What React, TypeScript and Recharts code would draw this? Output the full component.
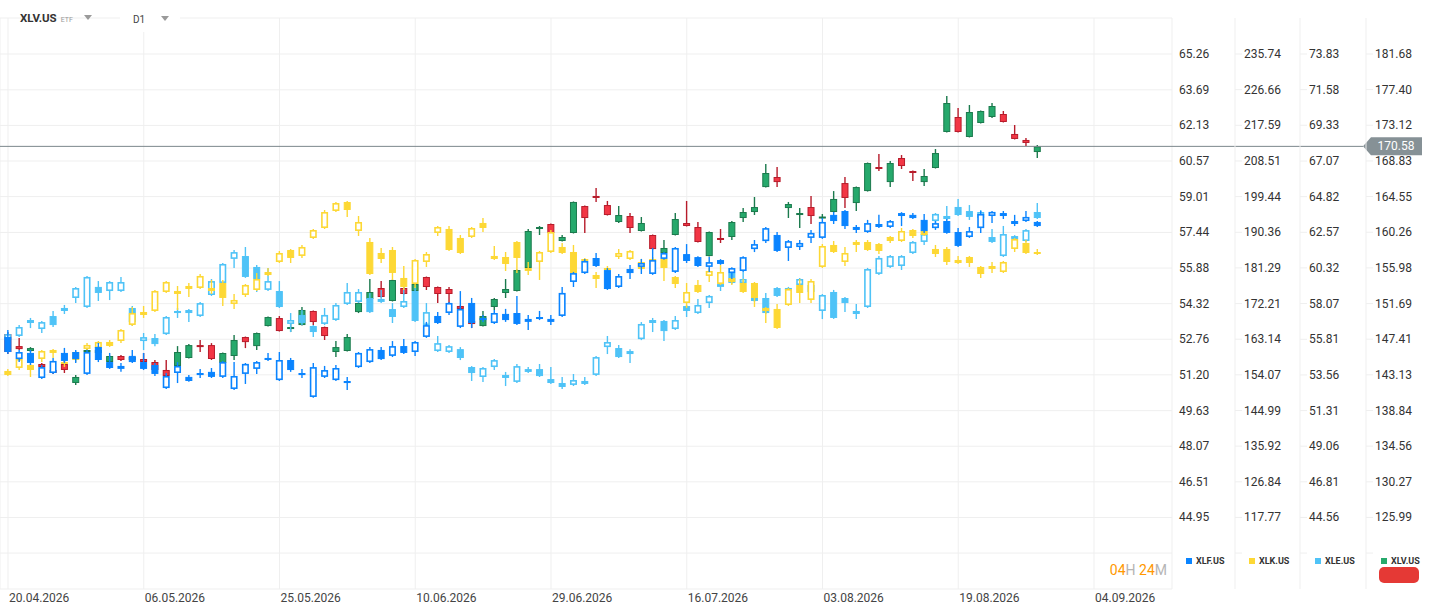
import React from 'react';
import { ComposedChart, Bar, XAxis, YAxis, CartesianGrid, ReferenceLine } from 'recharts';

const DATE_TICKS = [0, 12, 24, 36, 48, 60, 72, 84, 96];
const DATE_LABELS = ['20.04.2026', '06.05.2026', '25.05.2026', '10.06.2026', '29.06.2026', '16.07.2026', '03.08.2026', '19.08.2026', '04.09.2026'];

// daily candles, [open, high, low, close]
const XLF = [
  [52.86, 53.16, 52.11, 52.2], [51.89, 52.29, 51.76, 52.2], [52.16, 52.29, 51.63, 51.72], [51.06, 51.63, 51.02, 51.54],
  [51.28, 51.94, 51.24, 51.81], [52.16, 52.38, 51.72, 51.81], [52.2, 52.29, 51.72, 51.89], [51.24, 52.29, 51.19, 52.2],
  [52.42, 52.6, 51.76, 51.85], [51.76, 52.16, 51.46, 51.5], [51.46, 51.72, 51.33, 51.59], [52.03, 52.29, 51.72, 51.76],
  [51.76, 52.16, 51.41, 51.46], [51.63, 51.72, 51.15, 51.24], [50.62, 51.28, 50.58, 51.15], [51.28, 51.76, 50.84, 51.59],
  [51.11, 51.19, 50.9, 50.93], [51.19, 51.46, 51.06, 51.28], [51.33, 51.5, 51.06, 51.11], [51.11, 51.81, 51.06, 51.76],
  [50.58, 51.76, 50.54, 51.15], [51.24, 51.72, 50.8, 51.68], [51.46, 51.81, 51.24, 51.76], [51.85, 52.16, 51.81, 51.94],
  [50.97, 52.2, 50.93, 51.85], [51.85, 51.94, 51.33, 51.41], [51.19, 51.46, 51.06, 51.28], [50.23, 51.72, 50.2, 51.54],
  [51.11, 51.59, 51.06, 51.41], [50.97, 51.63, 50.93, 51.5], [50.84, 51.11, 50.54, 50.93], [51.54, 52.2, 51.5, 52.16],
  [51.76, 52.42, 51.72, 52.33], [52.29, 52.42, 51.85, 51.89], [52.03, 52.68, 51.98, 52.46], [52.46, 52.77, 52.11, 52.16],
  [52.2, 52.68, 52.03, 52.64], [52.86, 53.52, 52.82, 53.38], [53.78, 53.95, 53.43, 53.47], [53.91, 54.39, 53.82, 54.35],
  [53.3, 54.87, 53.25, 54.09], [54.35, 54.57, 53.25, 53.47], [53.6, 53.82, 53.52, 53.69], [53.47, 54.04, 53.43, 53.91],
  [53.87, 54.09, 53.52, 53.6], [53.91, 54.65, 53.38, 53.43], [53.52, 53.82, 53.16, 53.65], [53.65, 54.0, 53.6, 53.73],
  [53.65, 53.82, 53.38, 53.52], [53.78, 55.05, 53.73, 54.79], [55.27, 55.71, 55.05, 55.66], [55.66, 56.28, 55.62, 56.19],
  [56.32, 56.54, 55.93, 55.97], [55.79, 55.88, 54.92, 54.96], [55.05, 55.62, 55.0, 55.53], [55.84, 56.01, 55.4, 55.66],
  [55.93, 56.28, 55.62, 56.1], [55.62, 56.76, 55.58, 56.23], [56.28, 56.58, 56.24, 56.54], [55.71, 56.8, 55.66, 56.76],
  [56.49, 56.93, 56.1, 56.19], [56.36, 56.4, 55.93, 55.97], [55.93, 56.36, 55.71, 56.14], [56.23, 56.27, 56.02, 56.06],
  [55.66, 55.92, 55.4, 55.88], [55.75, 56.4, 55.71, 56.36], [56.71, 57.11, 56.58, 56.93], [57.06, 57.68, 56.98, 57.63],
  [57.33, 57.46, 56.58, 56.63], [56.76, 57.11, 56.19, 57.06], [56.8, 57.11, 56.67, 56.98], [57.2, 57.55, 56.98, 57.42],
  [57.2, 58.07, 57.16, 57.9], [58.21, 58.34, 57.81, 57.94], [58.38, 58.42, 57.59, 57.72], [57.68, 57.77, 57.42, 57.55],
  [57.46, 57.99, 57.42, 57.85], [57.81, 58.21, 57.64, 57.68], [57.68, 57.99, 57.64, 57.94], [58.16, 58.33, 57.72, 58.29],
  [58.21, 58.29, 58.03, 58.07], [57.99, 58.25, 57.42, 57.5], [57.63, 57.94, 57.55, 57.85], [57.94, 58.03, 57.38, 57.42],
  [57.46, 57.63, 56.8, 56.85], [57.24, 57.68, 57.2, 57.5], [57.63, 58.38, 57.42, 58.25], [58.16, 58.38, 57.85, 58.34],
  [58.29, 58.38, 58.03, 58.16], [57.94, 58.21, 57.72, 57.81], [57.94, 58.38, 57.9, 58.12], [57.9, 57.94, 57.68, 57.72],
];

const XLK = [
  [155.06, 155.57, 153.79, 154.04], [155.82, 158.62, 155.31, 158.11], [156.59, 156.84, 153.53, 155.31], [158.11, 160.4, 157.35, 160.15],
  [159.64, 160.66, 158.37, 160.4], [156.84, 157.86, 156.08, 157.35], [157.86, 160.15, 157.35, 159.89], [160.66, 162.18, 160.4, 161.68],
  [160.91, 162.69, 160.66, 162.44], [162.44, 162.94, 161.17, 161.42], [162.69, 165.74, 162.18, 165.49], [166.77, 171.35, 166.51, 169.82],
  [170.07, 171.6, 168.55, 169.31], [170.33, 175.67, 170.07, 175.42], [175.16, 177.96, 174.91, 177.71], [175.42, 176.69, 170.58, 174.66],
  [175.93, 177.45, 173.89, 176.69], [176.18, 179.74, 175.93, 179.24], [175.42, 178.22, 174.66, 176.18], [177.45, 178.22, 171.6, 173.64],
  [172.11, 174.66, 170.84, 173.13], [174.4, 177.2, 173.89, 176.95], [175.67, 180.0, 175.42, 178.47], [179.49, 181.27, 179.24, 180.25],
  [182.8, 185.6, 182.54, 185.09], [185.85, 186.11, 182.54, 183.82], [184.33, 187.13, 183.82, 186.62], [188.91, 191.2, 188.65, 190.94],
  [191.45, 196.03, 191.2, 195.52], [195.78, 198.07, 195.52, 197.81], [198.07, 198.32, 194.25, 196.03], [190.69, 194.5, 189.42, 192.98],
  [187.89, 188.91, 179.49, 179.74], [185.09, 186.36, 182.54, 183.56], [185.85, 186.62, 178.22, 180.0], [178.73, 181.78, 175.67, 176.44],
  [177.2, 183.56, 176.18, 183.31], [182.8, 185.34, 181.53, 184.83], [190.18, 191.96, 189.42, 191.71], [191.2, 191.96, 185.6, 185.85],
  [188.91, 189.67, 184.83, 185.09], [189.16, 191.71, 188.91, 191.45], [192.73, 194.0, 190.43, 191.45], [184.33, 186.87, 183.31, 183.56],
  [184.07, 185.34, 180.51, 182.29], [187.89, 188.14, 180.0, 183.82], [180.51, 182.8, 179.49, 181.27], [182.8, 185.6, 178.22, 185.34],
  [185.34, 190.94, 185.09, 190.43], [186.62, 187.63, 184.83, 185.09], [185.34, 187.13, 179.74, 180.0], [183.05, 183.82, 182.8, 183.56],
  [179.49, 180.25, 176.18, 178.47], [180.76, 181.78, 180.51, 181.27], [184.07, 186.11, 183.56, 185.09], [183.56, 185.85, 183.31, 185.6],
  [182.8, 183.56, 180.76, 181.02], [182.8, 184.07, 182.54, 183.56], [183.56, 183.82, 177.96, 181.27], [178.98, 179.24, 176.18, 177.2],
  [172.36, 177.45, 171.09, 175.16], [176.95, 178.22, 174.91, 175.16], [179.24, 181.27, 177.71, 180.51], [177.2, 182.04, 176.95, 180.25],
  [178.73, 178.98, 176.95, 177.71], [177.45, 178.47, 174.91, 175.16], [177.45, 177.71, 171.35, 173.64], [170.33, 171.35, 167.27, 171.09],
  [170.84, 172.11, 165.75, 166.0], [171.86, 176.18, 171.6, 175.93], [176.95, 178.47, 172.36, 174.91], [173.13, 178.47, 172.36, 177.96],
  [181.53, 187.38, 181.27, 186.87], [187.13, 188.14, 185.09, 185.34], [182.8, 186.62, 181.78, 185.09], [187.13, 188.4, 185.34, 187.89],
  [187.89, 188.4, 185.6, 185.85], [187.38, 187.63, 184.83, 185.6], [189.16, 189.42, 187.63, 188.14], [188.14, 191.45, 187.89, 190.69],
  [190.94, 191.2, 188.91, 189.42], [190.69, 190.94, 189.42, 189.67], [186.11, 187.13, 184.07, 184.83], [186.11, 186.62, 182.04, 182.8],
  [183.31, 184.33, 182.29, 182.54], [184.07, 184.33, 181.53, 182.54], [181.53, 181.78, 178.73, 179.74], [181.78, 182.8, 180.0, 181.02],
  [180.25, 183.05, 180.0, 182.8], [186.11, 188.91, 185.34, 188.65], [187.63, 188.4, 184.83, 185.09], [184.83, 186.11, 184.58, 185.34],
];

const XLE = [
  [55.76, 56.27, 55.64, 56.14], [56.02, 56.71, 55.95, 56.59], [56.84, 57.16, 56.52, 57.03], [56.46, 56.97, 56.21, 56.9],
  [57.28, 57.6, 56.59, 56.71], [57.79, 57.98, 57.41, 57.6], [58.42, 59.12, 58.1, 59.05], [57.85, 59.81, 57.79, 59.75],
  [59.12, 59.49, 58.23, 58.74], [58.86, 59.49, 58.29, 59.43], [58.86, 59.75, 58.8, 59.43], [57.79, 57.91, 56.65, 56.9],
  [55.7, 56.21, 55.13, 55.95], [55.89, 56.14, 55.38, 55.51], [56.14, 57.28, 56.08, 57.22], [57.47, 57.79, 57.16, 57.6],
  [57.66, 57.72, 56.9, 57.47], [57.28, 58.17, 57.22, 58.1], [58.61, 59.62, 58.55, 59.49], [59.37, 60.63, 59.3, 60.57],
  [60.89, 61.45, 60.32, 61.32], [61.07, 61.64, 59.69, 59.75], [60.38, 60.51, 58.8, 59.62], [58.93, 60.32, 58.86, 59.49],
  [58.86, 59.49, 57.79, 57.85], [56.78, 57.47, 56.27, 57.03], [57.35, 57.66, 56.71, 56.84], [56.65, 56.71, 55.95, 56.27],
  [56.78, 57.79, 56.71, 57.35], [57.03, 58.1, 56.97, 57.98], [58.04, 59.37, 57.98, 58.8], [58.17, 58.99, 58.1, 58.8],
  [58.42, 58.74, 57.47, 57.53], [58.17, 58.93, 58.1, 58.36], [57.72, 58.1, 56.84, 57.22], [57.85, 59.12, 57.79, 58.23],
  [58.86, 59.12, 56.9, 56.97], [56.71, 58.1, 56.59, 57.53], [55.07, 56.02, 55.01, 55.57], [55.01, 55.45, 54.94, 55.38],
  [55.19, 55.32, 54.5, 54.63], [54.06, 54.12, 53.18, 53.68], [53.43, 54.06, 53.12, 54.0], [54.06, 54.56, 53.87, 54.5],
  [53.56, 53.75, 52.86, 53.37], [53.12, 54.25, 53.05, 54.12], [53.93, 54.06, 53.68, 53.75], [53.93, 54.25, 53.43, 53.49],
  [53.3, 54.06, 52.99, 53.05], [53.05, 53.43, 52.67, 52.8], [52.93, 53.62, 52.86, 53.24], [52.99, 53.43, 52.93, 53.18],
  [53.56, 54.75, 53.49, 54.69], [55.32, 56.02, 54.88, 55.64], [55.26, 55.45, 54.63, 54.69], [54.88, 55.19, 54.31, 55.07],
  [55.82, 56.9, 55.76, 56.78], [57.03, 57.16, 56.27, 56.84], [56.97, 57.03, 55.7, 56.33], [56.46, 57.28, 56.4, 57.03],
  [57.91, 57.98, 57.22, 57.6], [57.47, 58.36, 57.41, 57.98], [58.1, 58.61, 57.79, 58.55], [59.12, 59.43, 58.86, 59.3],
  [60.0, 60.06, 59.3, 59.37], [59.37, 60.06, 58.8, 59.62], [58.42, 58.48, 58.17, 58.23], [58.42, 58.74, 57.41, 57.47],
  [59.05, 59.12, 58.48, 58.55], [58.93, 59.12, 58.8, 59.05], [59.24, 59.69, 59.18, 59.62], [58.8, 59.3, 58.67, 59.24],
  [57.6, 58.67, 57.09, 58.61], [58.8, 58.93, 57.1, 57.16], [58.42, 58.48, 57.53, 58.1], [57.6, 58.04, 57.09, 57.41],
  [57.85, 60.32, 57.79, 60.25], [59.94, 61.07, 59.88, 60.95], [60.38, 61.13, 60.32, 61.07], [60.44, 61.13, 60.19, 61.07],
  [61.26, 62.02, 61.2, 61.96], [61.96, 62.52, 61.77, 62.46], [63.28, 63.79, 62.91, 63.73], [63.41, 64.23, 63.35, 63.6],
  [64.17, 64.67, 63.6, 63.66], [63.91, 64.29, 63.35, 63.54], [63.47, 63.98, 63.35, 63.85], [62.27, 62.78, 61.9, 61.96],
  [61.07, 62.97, 61.01, 62.46], [62.33, 62.39, 62.09, 62.15], [62.02, 62.77, 61.96, 62.71], [63.85, 64.42, 63.41, 63.47],
];

const XLV = [
  [148.03, 148.27, 145.63, 145.87], [146.58, 147.55, 146.11, 146.22], [145.99, 146.46, 145.87, 146.34], [144.43, 144.55, 143.95, 144.07],
  [143.71, 143.95, 143.23, 143.35], [144.43, 144.91, 143.35, 143.71], [142.15, 143.11, 141.91, 142.87], [145.87, 146.22, 145.8, 146.11],
  [145.75, 146.22, 145.63, 146.11], [144.67, 145.45, 144.6, 145.39], [145.39, 145.51, 144.79, 144.91], [144.91, 145.39, 144.79, 145.27],
  [145.03, 145.75, 144.6, 144.67], [144.67, 144.91, 143.59, 143.71], [143.71, 144.91, 142.93, 142.99], [144.19, 146.58, 144.13, 145.87],
  [145.15, 146.82, 145.09, 146.7], [146.7, 147.31, 145.87, 146.46], [146.7, 146.94, 144.91, 145.03], [144.55, 145.81, 144.49, 145.75],
  [145.39, 147.91, 144.91, 147.31], [147.67, 147.73, 146.34, 147.06], [146.58, 148.21, 146.11, 148.15], [148.99, 150.13, 148.93, 150.07],
  [149.95, 150.19, 148.33, 148.39], [148.63, 149.47, 148.27, 148.87], [149.11, 151.28, 149.05, 150.92], [150.8, 150.86, 149.11, 149.47],
  [148.87, 148.93, 147.31, 147.79], [145.87, 147.19, 145.27, 146.46], [145.99, 148.03, 145.93, 147.67], [150.67, 151.82, 150.55, 151.76],
  [152.24, 154.64, 152.18, 153.08], [153.56, 154.4, 152.42, 152.48], [152.0, 154.58, 151.94, 154.52], [153.56, 153.62, 152.78, 152.84],
  [153.2, 154.1, 153.14, 154.04], [154.88, 154.94, 153.32, 153.68], [153.68, 153.74, 151.76, 152.84], [153.44, 153.68, 151.76, 152.84],
  [151.4, 151.46, 150.98, 151.04], [149.59, 149.95, 148.75, 149.23], [148.99, 150.8, 148.93, 150.19], [151.28, 152.36, 150.92, 152.24],
  [152.96, 154.64, 152.36, 153.44], [153.2, 155.78, 153.14, 155.72], [155.96, 160.65, 155.9, 160.41], [160.65, 161.01, 159.93, 160.89],
  [161.25, 161.31, 160.11, 160.17], [159.21, 159.93, 159.15, 159.69], [160.17, 163.96, 160.11, 163.9], [163.41, 163.47, 160.17, 161.97],
  [164.62, 165.57, 163.9, 164.38], [163.53, 164.02, 162.27, 162.33], [161.49, 163.41, 161.37, 162.33], [162.21, 162.57, 160.17, 160.77],
  [160.41, 162.09, 160.35, 161.37], [159.93, 159.99, 158.18, 158.24], [157.76, 159.33, 157.7, 158.37], [159.93, 162.57, 159.87, 161.85],
  [161.37, 164.02, 160.95, 161.01], [160.89, 161.49, 159.03, 159.09], [157.4, 160.35, 157.34, 160.29], [159.57, 160.65, 158.97, 159.33],
  [159.69, 161.61, 159.33, 161.49], [161.97, 163.17, 161.49, 162.69], [162.69, 164.5, 162.33, 163.29], [165.69, 168.46, 165.63, 167.38],
  [166.9, 168.1, 165.69, 166.29], [163.17, 163.9, 161.97, 163.65], [162.33, 163.17, 160.77, 162.57], [163.29, 164.62, 161.25, 162.21],
  [161.97, 162.45, 161.85, 162.09], [162.69, 165.21, 162.63, 164.26], [166.17, 166.9, 163.17, 164.38], [163.77, 165.75, 162.81, 165.69],
  [165.21, 168.64, 165.15, 168.58], [168.1, 169.66, 167.62, 167.86], [166.29, 168.82, 165.69, 168.58], [169.18, 169.54, 167.86, 168.22],
  [167.62, 167.68, 166.42, 167.38], [166.29, 167.86, 165.81, 167.02], [167.98, 170.26, 167.92, 169.78], [172.31, 176.63, 172.25, 175.79],
  [174.11, 175.19, 172.25, 172.31], [171.71, 175.55, 171.65, 174.71], [173.39, 174.89, 173.33, 174.83], [174.11, 175.79, 173.99, 175.43],
  [174.47, 174.83, 173.45, 173.51], [172.07, 173.15, 171.41, 171.47], [171.35, 171.59, 170.63, 170.99], [169.9, 170.75, 169.18, 170.58],
];

const XLF_TICKS = [65.26, 63.69, 62.13, 60.57, 59.01, 57.44, 55.88, 54.32, 52.76, 51.2, 49.63, 48.07, 46.51, 44.95];
const XLK_TICKS = [235.74, 226.66, 217.59, 208.51, 199.44, 190.36, 181.29, 172.21, 163.14, 154.07, 144.99, 135.92, 126.84, 117.77];
const XLE_TICKS = [73.83, 71.58, 69.33, 67.07, 64.82, 62.57, 60.32, 58.07, 55.81, 53.56, 51.31, 49.06, 46.81, 44.56];
const XLV_TICKS = [181.68, 177.4, 173.12, 168.83, 164.55, 160.26, 155.98, 151.69, 147.41, 143.13, 138.84, 134.56, 130.27, 125.99];
const LAST_XLV = 170.58;

const FONT = 'Roboto, "Noto Sans", Arial, sans-serif';
const GRID = '#efefef';
const PLOT_BOTTOM = 589;

const rows = XLF.map((f, i) => ({ i, f, k: XLK[i], e: XLE[i], v: XLV[i] }));

type Look = { upFill: string; upStroke: string; downFill: string; downStroke: string; hollow: boolean };

const candle = (key: string, look: Look) => (props: any) => {
  const { x, y, width, height, index } = props;
  const d: number[] | undefined = (props.payload ?? rows[index])?.[key];
  if (!d || !Number.isFinite(y)) return <g />;
  const [o, h, l, c] = d;
  const top = Math.min(y, y + height);
  const bot = Math.max(y, y + height);
  const py = (v: number) => (h === l ? top : top + ((h - v) / (h - l)) * (bot - top));
  const cx = x + width / 2;
  const up = c >= o;
  let b1 = py(Math.max(o, c));
  let b2 = py(Math.min(o, c));
  if (b2 - b1 < 2) {
    const m = (b1 + b2) / 2;
    b1 = m - 1;
    b2 = m + 1;
  }
  const stroke = up ? look.upStroke : look.downStroke;
  const fill = up ? look.upFill : look.downFill;
  return (
    <g>
      <line x1={cx} x2={cx} y1={top} y2={bot} stroke={stroke} strokeWidth={1.4} />
      {up && look.hollow ? (
        <rect x={cx - 2.7} y={b1 + 0.8} width={5.4} height={Math.max(b2 - b1 - 1.6, 0.4)} fill="#fff" stroke={stroke} strokeWidth={1.6} />
      ) : (
        <rect x={cx - 3} y={b1 + 0.5} width={6} height={Math.max(b2 - b1 - 1, 0.5)} fill={fill} stroke={stroke} strokeWidth={1} />
      )}
    </g>
  );
};

const flat = (color: string): Look => ({ upFill: '#fff', upStroke: color, downFill: color, downStroke: color, hollow: true });

// axis ids sort in column order: ax1 XLF, ax2 XLK, ax3 XLE, ax4 XLV
const SERIES = [
  { key: 'v', axis: 'ax4', look: { upFill: '#26a96c', upStroke: '#1b7a4d', downFill: '#f23645', downStroke: '#b71c2b', hollow: false } },
  { key: 'e', axis: 'ax3', look: flat('#4fc3f7') },
  { key: 'k', axis: 'ax2', look: flat('#fdd835') },
  { key: 'f', axis: 'ax1', look: flat('#0a84ff') },
];

const yTick = (labels: number[]) => (p: any) =>
  labels.includes(p.payload.value) ? (
    <text x={p.x} y={p.y} dy={4} fontSize={12} fill="#333" fontFamily={FONT}>
      {Number(p.payload.value).toFixed(2)}
    </text>
  ) : (
    <g />
  );

const dateTick = (p: any) => {
  const k = DATE_TICKS.indexOf(p.payload.value);
  if (k < 0) return <g />;
  return (
    <text x={p.x + 1} y={PLOT_BOTTOM + 13} fontSize={12} fill="#444" fontFamily={FONT}>
      {DATE_LABELS[k]}
    </text>
  );
};

const PriceTag = (p: any) => {
  const y = p.y1;
  const left = Math.min(p.x1, p.x2);
  const tip = Math.max(p.x1, p.x2) + 191;
  return (
    <g>
      <line x1={left} x2={tip} y1={y} y2={y} stroke="#7b878c" strokeWidth={1} />
      <path d={`M${tip},${y} L${tip + 8},${y - 9} L${tip + 59},${y - 9} L${tip + 59},${y + 9} L${tip + 8},${y + 9} Z`} fill="#869196" />
      <text x={tip + 33} y={y} dy={4} textAnchor="middle" fontSize={12} fill="#fff" fontFamily={FONT}>
        {LAST_XLV.toFixed(2)}
      </text>
    </g>
  );
};

const LEGEND = [
  { name: 'XLF.US', color: '#0a84ff', x: 1186 },
  { name: 'XLK.US', color: '#fdd835', x: 1249 },
  { name: 'XLE.US', color: '#4fc3f7', x: 1315 },
  { name: 'XLV.US', color: '#26a96c', x: 1381 },
];

const X_DOMAIN = [-0.7072, 102.895];

export default function App() {
  return (
    <div style={{ position: 'absolute', left: 0, top: 0, width: 1434, height: 615, background: '#fff', fontFamily: FONT }}>
      <ComposedChart width={1434} height={615} data={rows} margin={{ top: 18, right: 0, left: 0, bottom: 0 }}>
        <XAxis xAxisId="ax1" dataKey="i" type="number" domain={X_DOMAIN} allowDataOverflow hide />
        <XAxis xAxisId="ax2" dataKey="i" type="number" domain={X_DOMAIN} allowDataOverflow hide />
        <XAxis xAxisId="ax3" dataKey="i" type="number" domain={X_DOMAIN} allowDataOverflow hide />
        <XAxis
          xAxisId="ax4"
          dataKey="i"
          type="number"
          domain={X_DOMAIN}
          allowDataOverflow
          ticks={DATE_TICKS}
          interval={0}
          height={26}
          tickLine={false}
          tickSize={0}
          tickMargin={9}
          axisLine={{ stroke: GRID }}
          tick={dateTick}
        />
        <YAxis yAxisId="ax1" orientation="right" width={63} domain={[41.8147, 66.8376]} allowDataOverflow
          ticks={[...XLF_TICKS, 43.39]} interval={0} tickSize={7} tickMargin={0} tickLine={false} axisLine={false} tick={yTick(XLF_TICKS)} />
        <YAxis yAxisId="ax2" orientation="right" width={65} domain={[99.557, 244.904]} allowDataOverflow
          ticks={[...XLK_TICKS, 108.7]} interval={0} tickSize={7} tickMargin={2} tickLine={{ stroke: GRID }} axisLine={{ stroke: GRID }} tick={yTick(XLK_TICKS)} />
        <YAxis yAxisId="ax3" orientation="right" width={66} domain={[40.041, 76.104]} allowDataOverflow
          ticks={[...XLE_TICKS, 42.31]} interval={0} tickSize={7} tickMargin={2} tickLine={{ stroke: GRID }} axisLine={{ stroke: GRID }} tick={yTick(XLE_TICKS)} />
        <YAxis yAxisId="ax4" orientation="right" width={68} domain={[117.392, 186.006]} allowDataOverflow
          ticks={[...XLV_TICKS, 121.71]} interval={0} tickSize={7} tickMargin={2} tickLine={{ stroke: GRID }} axisLine={{ stroke: GRID }} tick={yTick(XLV_TICKS)} />
        <CartesianGrid xAxisId="ax4" yAxisId="ax1" stroke={GRID} />
        {SERIES.map((s) => (
          <Bar
            key={s.key}
            xAxisId={s.axis}
            yAxisId={s.axis}
            dataKey={(r: any) => [r[s.key][2], r[s.key][1]]}
            barSize={7}
            shape={candle(s.key, s.look)}
            isAnimationActive={false}
          />
        ))}
        <ReferenceLine xAxisId="ax4" yAxisId="ax4" y={LAST_XLV} ifOverflow="visible" shape={(p: any) => <PriceTag {...p} />} />
      </ComposedChart>

      {/* header */}
      <div style={{ position: 'absolute', left: 120, top: 0, width: 60, height: 32, background: '#fff' }} />
      <div style={{ position: 'absolute', left: 20, top: 10, fontSize: 11.5, fontWeight: 700, color: '#333', lineHeight: '16px' }}>
        XLV.US<span style={{ fontSize: 7, fontWeight: 400, color: '#999', marginLeft: 4 }}>ETF</span>
      </div>
      <div style={{ position: 'absolute', left: 84, top: 15, width: 0, height: 0, borderLeft: '4px solid transparent', borderRight: '4px solid transparent', borderTop: '5px solid #9a9a9a' }} />
      <div style={{ position: 'absolute', left: 133, top: 13, fontSize: 10, color: '#444', lineHeight: '14px' }}>D1</div>
      <div style={{ position: 'absolute', left: 161, top: 16, width: 0, height: 0, borderLeft: '4px solid transparent', borderRight: '4px solid transparent', borderTop: '5px solid #9a9a9a' }} />

      {/* session countdown */}
      <div style={{ position: 'absolute', right: 1434 - 1167, top: 561, fontSize: 14, lineHeight: '18px', whiteSpace: 'nowrap' }}>
        <span style={{ color: '#ff9800' }}>04</span>
        <span style={{ color: '#b5b5b5' }}>H </span>
        <span style={{ color: '#ff9800' }}>24</span>
        <span style={{ color: '#b5b5b5' }}>M</span>
      </div>

      {/* legend */}
      {LEGEND.map((l) => (
        <React.Fragment key={l.name}>
          <div style={{ position: 'absolute', left: l.x, top: 558, width: 6, height: 6, background: l.color }} />
          <div style={{ position: 'absolute', left: l.x + 10, top: 555, fontSize: 9, fontWeight: 700, color: '#333', lineHeight: '12px' }}>
            {l.name}
          </div>
        </React.Fragment>
      ))}
      <div style={{ position: 'absolute', left: 1379, top: 567, width: 40, height: 16, borderRadius: 5, background: '#e53935' }} />
    </div>
  );
}
